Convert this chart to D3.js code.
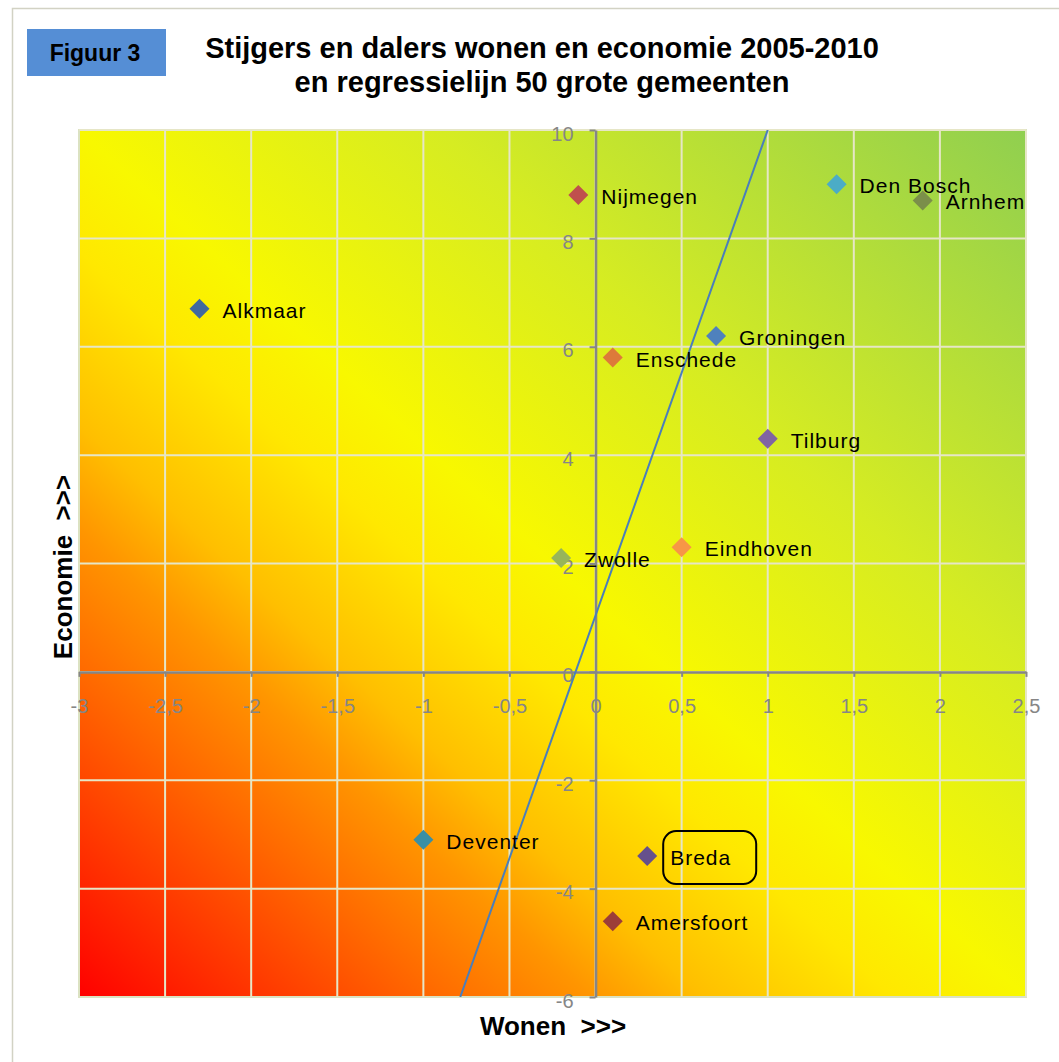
<!DOCTYPE html>
<html>
<head>
<meta charset="utf-8">
<script src="https://cdn.jsdelivr.net/npm/d3@7"></script>
<style>
  body { margin: 0; background: #fff; }
  text { font-family: 'Liberation Sans', Arial, sans-serif; }
</style>
</head>
<body>
<svg id="chart" width="1059" height="1062"></svg>
<script>
// data
const cities = ['Nijmegen', 'Den Bosch', 'Arnhem', 'Alkmaar', 'Groningen', 'Enschede',
  'Tilburg', 'Eindhoven', 'Zwolle', 'Deventer', 'Breda', 'Amersfoort'];
const wonen = [-0.1, 1.4, 1.9, -2.3, 0.7, 0.1, 1.0, 0.5, -0.2, -1.0, 0.3, 0.1];
const economie = [8.8, 9.0, 8.7, 6.7, 6.2, 5.8, 4.3, 2.3, 2.1, -3.1, -3.4, -4.6];
const markerColors = ['#c0504d', '#4bacc6', '#7b8f4a', '#41699f', '#4f81bd', '#dd7a3a',
  '#8064a2', '#f79646', '#97b55a', '#3a8fa5', '#66508c', '#9c3d38'];
const xTicks = [-3, -2.5, -2, -1.5, -1, -0.5, 0, 0.5, 1, 1.5, 2, 2.5];
const yTicks = [-6, -4, -2, 0, 2, 4, 6, 8, 10];
const regSlope = 8.96;
const regIntercept = 1.04;
const highlighted = 'Breda';

const width = 1059, height = 1062;
const margin = { top: 130, right: 33, bottom: 65, left: 79 };

const svg = d3.select('#chart');

const x = d3.scaleLinear()
  .domain([-3, 2.5])
  .range([margin.left, width - margin.right]);
const y = d3.scaleLinear()
  .domain([-6, 10])
  .range([height - margin.bottom, margin.top]);

// dutch decimal comma, plain hyphen for minus
const fmt = v => String(v).replace('.', ',');

// outer frame
svg.append('rect')
  .attr('x', 12.5).attr('y', 8.5)
  .attr('width', width).attr('height', height)
  .attr('fill', '#fff')
  .attr('stroke', '#d2d2c4')
  .attr('stroke-width', 1.5);

// background gradient red -> yellow -> green
const grad = svg.append('defs').append('linearGradient')
  .attr('id', 'bg')
  .attr('x1', 0).attr('y1', 1).attr('x2', 1).attr('y2', 0);
[[0, '#ff0000'], [0.19, '#ff6a00'], [0.27, '#ff9500'], [0.33, '#ffbf00'],
 [0.43, '#ffe800'], [0.5, '#f8f800'], [0.69, '#d6ec22'], [1, '#90cf50']]
  .forEach(s => grad.append('stop').attr('offset', s[0]).attr('stop-color', s[1]));

svg.select('defs').append('clipPath').attr('id', 'clip')
  .append('rect')
  .attr('x', x(-3)).attr('y', y(10))
  .attr('width', x(2.5) - x(-3)).attr('height', y(-6) - y(10));

svg.append('rect')
  .attr('x', x(-3)).attr('y', y(10))
  .attr('width', x(2.5) - x(-3)).attr('height', y(-6) - y(10))
  .attr('fill', 'url(#bg)')
  .attr('stroke', '#dbe2c2')
  .attr('stroke-width', 2);

// gridlines
svg.append('g')
  .selectAll('line')
  .data(xTicks.slice(1))
  .join('line')
  .attr('x1', d => x(d)).attr('x2', d => x(d))
  .attr('y1', y(10)).attr('y2', y(-6))
  .attr('stroke', '#e6e6c6')
  .attr('stroke-width', 2);
svg.append('g')
  .selectAll('line')
  .data(yTicks.slice(1))
  .join('line')
  .attr('x1', x(-3)).attr('x2', x(2.5))
  .attr('y1', d => y(d)).attr('y2', d => y(d))
  .attr('stroke', '#e6e6c6')
  .attr('stroke-width', 2);

// axes through zero
const xAxis = svg.append('g')
  .attr('transform', `translate(0,${y(0)})`)
  .call(d3.axisBottom(x).tickValues(xTicks).tickFormat(fmt).tickSizeInner(5).tickSizeOuter(0).tickPadding(22));
const yAxis = svg.append('g')
  .attr('transform', `translate(${x(0)},0)`)
  .call(d3.axisLeft(y).tickValues(yTicks).tickFormat(fmt).tickSizeInner(6).tickSizeOuter(0).tickPadding(16));

[xAxis, yAxis].forEach(g => {
  g.select('.domain').attr('stroke', '#868686').attr('stroke-width', 2.5);
  g.selectAll('.tick line').attr('stroke', '#868686').attr('stroke-width', 2);
  g.selectAll('.tick text')
    .attr('fill', '#868686')
    .style('font-size', '20px')
    .style('font-family', "'Liberation Sans', Arial, sans-serif");
});
yAxis.selectAll('.tick text').attr('dy', '0.5em');

// regression line
svg.append('line')
  .attr('clip-path', 'url(#clip)')
  .attr('x1', x((-6 - regIntercept) / regSlope)).attr('y1', y(-6))
  .attr('x2', x((10 - regIntercept) / regSlope)).attr('y2', y(10))
  .attr('stroke', '#4a7ebb')
  .attr('stroke-width', 2);

// points
const pts = cities.map((c, i) => ({ name: c, wx: wonen[i], ey: economie[i], color: markerColors[i] }));

svg.append('g')
  .selectAll('path')
  .data(pts)
  .join('path')
  .attr('d', d3.symbol(d3.symbolSquare, 200))
  .attr('transform', d => `translate(${x(d.wx)},${y(d.ey)}) rotate(45)`)
  .attr('fill', d => d.color);

svg.append('g')
  .selectAll('text')
  .data(pts)
  .join('text')
  .attr('x', d => x(d.wx) + 23)
  .attr('y', d => y(d.ey) + 9)
  .style('font-size', '21px')
  .style('letter-spacing', '1px')
  .attr('fill', '#000')
  .text(d => d.name);

// hand drawn box around the highlighted city
const hl = pts.find(d => d.name === highlighted);
svg.append('rect')
  .attr('x', x(hl.wx) + 16).attr('y', y(hl.ey) - 25)
  .attr('width', 93).attr('height', 53)
  .attr('rx', 13)
  .attr('fill', 'none')
  .attr('stroke', '#000')
  .attr('stroke-width', 2);

// titles
svg.append('rect')
  .attr('x', 27).attr('y', 29)
  .attr('width', 139).attr('height', 47)
  .attr('fill', '#558ed5');
svg.append('text')
  .attr('x', 95).attr('y', 61)
  .attr('text-anchor', 'middle')
  .style('font-size', '23px').style('font-weight', 'bold')
  .text('Figuur 3');

svg.append('text')
  .attr('x', 542).attr('y', 58)
  .attr('text-anchor', 'middle')
  .style('font-size', '29px').style('font-weight', 'bold')
  .text('Stijgers en dalers wonen en economie 2005-2010');
svg.append('text')
  .attr('x', 542).attr('y', 92)
  .attr('text-anchor', 'middle')
  .style('font-size', '29px').style('font-weight', 'bold')
  .text('en regressielijn 50 grote gemeenten');

svg.append('text')
  .attr('x', 553).attr('y', 1035)
  .attr('text-anchor', 'middle')
  .style('font-size', '26px').style('font-weight', 'bold')
  .style('white-space', 'pre')
  .text('Wonen  >>>');

svg.append('text')
  .attr('transform', `translate(72,567) rotate(-90)`)
  .attr('text-anchor', 'middle')
  .style('font-size', '26px').style('font-weight', 'bold')
  .style('white-space', 'pre')
  .text('Economie  >>>');
</script>
</body>
</html>
